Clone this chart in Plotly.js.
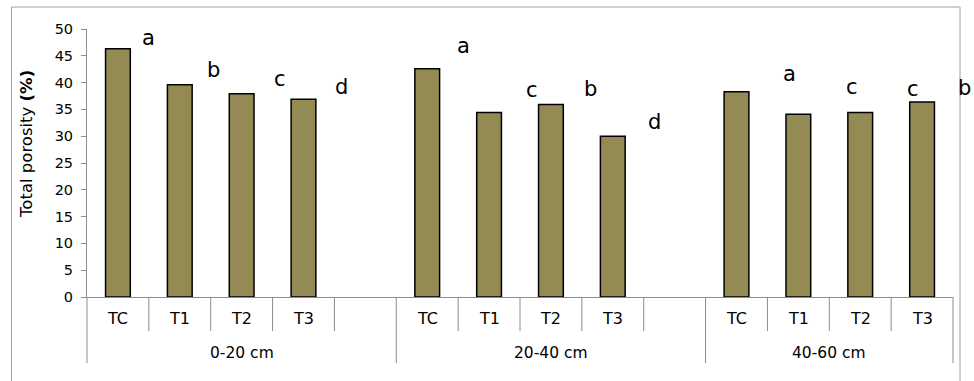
<!DOCTYPE html>
<html><head><meta charset="utf-8">
<script src="https://cdn.plot.ly/plotly-3.0.1.min.js"></script>
<style>html,body{margin:0;padding:0;background:#fff}</style>
</head><body><div id="chart" style="width:974px;height:381px"></div>
<script>
// ---- data ----
const depths = ['0-20 cm', '20-40 cm', '40-60 cm'];
const treatments = ['TC', 'T1', 'T2', 'T3'];
const porosity_0_20 = [46.3, 39.6, 37.9, 36.9];
const porosity_20_40 = [42.6, 34.4, 35.9, 30.0];
const porosity_40_60 = [38.3, 34.1, 34.4, 36.4];
const letters_0_20 = ['a', 'b', 'c', 'd'];
const letters_20_40 = ['a', 'c', 'b', 'd'];
const letters_40_60 = ['a', 'c', 'c', 'b'];
const letterY_0_20 = [48.3, 42.4, 40.7, 39.1];
const letterY_20_40 = [46.8, 38.6, 38.8, 32.7];
const letterY_40_60 = [41.6, 39.2, 38.9, 39.0];
const yTickVals = [0, 5, 10, 15, 20, 25, 30, 35, 40, 45, 50];
const yTitle = 'Total porosity <b>(%)</b>';

// ---- layout helpers (positions/styles) ----
const FONT = 'DejaVu Sans, sans-serif';
const blankSlot = [true, true, false];          // empty slot after T3 in the first two groups
const letterDx = [[0.50, 0.54, 0.62, 0.62], [0.59, 0.69, 0.64, 0.68], [0.86, 0.87, 0.85, 0.69]];
const AXIS_GRAY = '#8c8c8c';

const values = [porosity_0_20, porosity_20_40, porosity_40_60];
const letters = [letters_0_20, letters_20_40, letters_40_60];
const letterYs = [letterY_0_20, letterY_20_40, letterY_40_60];

// count slots first
let nSlots = 0;
depths.forEach((d, g) => { nSlots += treatments.length + (blankSlot[g] ? 1 : 0); });
const idxToPaper = v => (v + 0.5) / nSlots;

const xg = [], xc = [], yv = [];
const annotations = [];
const groupBounds = [];
let idx = 0;
depths.forEach((d, g) => {
  const start = idx;
  treatments.forEach((t, i) => {
    xg.push(d); xc.push(t); yv.push(values[g][i]);
    // significance letter
    annotations.push({
      x: idxToPaper(idx + letterDx[g][i]), y: letterYs[g][i], xref: 'paper', yref: 'y',
      text: letters[g][i], showarrow: false, xanchor: 'center', yanchor: 'middle',
      font: {family: FONT, size: 21, color: '#000'}
    });
    // treatment label under the axis
    annotations.push({
      x: idxToPaper(idx), y: -0.082, xref: 'paper', yref: 'paper',
      text: t, showarrow: false, xanchor: 'center', yanchor: 'middle',
      font: {family: FONT, size: 16, color: '#000'}
    });
    idx++;
  });
  if (blankSlot[g]) { xg.push(d); xc.push(' '); yv.push(null); idx++; }
  groupBounds.push([start, idx]);
  annotations.push({
    x: idxToPaper((start + idx - 1) / 2), y: -0.209, xref: 'paper', yref: 'paper',
    text: d, showarrow: false, xanchor: 'center', yanchor: 'middle',
    font: {family: FONT, size: 15.5, color: '#000'}
  });
});

// y-axis title
annotations.push({
  x: -0.0693, y: 0.571, xref: 'paper', yref: 'paper', textangle: -90,
  text: yTitle, showarrow: false, xanchor: 'center', yanchor: 'middle',
  font: {family: FONT, size: 16.5, color: '#000'}
});

// tick marks at slot boundaries (short) and group dividers (long)
const shapes = [];
const dividerIdx = new Set();
groupBounds.forEach(([s, e]) => { dividerIdx.add(s); dividerIdx.add(e); });
for (let b = 0; b <= nSlots; b++) {
  const xp = b / nSlots;
  const long = dividerIdx.has(b);
  shapes.push({
    type: 'line', xref: 'paper', yref: 'paper',
    x0: xp, x1: xp, y0: 0, y1: long ? -0.2463 : -0.1269,
    line: {color: AXIS_GRAY, width: 1}
  });
}
// outer frame
shapes.push({
  type: 'rect', xref: 'paper', yref: 'paper',
  x0: -0.0872, x1: 1.0081, y0: -0.4, y1: 1.082,
  line: {color: '#a0a0a0', width: 1}, fillcolor: 'rgba(0,0,0,0)'
});

const trace = {
  type: 'bar', x: [xg, xc], y: yv,
  marker: {color: '#948A54', line: {color: '#000', width: 1.5}},
  hoverinfo: 'skip'
};

const layout = {
  width: 974, height: 381,
  margin: {l: 87, r: 21, t: 29, b: 84},
  paper_bgcolor: '#fff', plot_bgcolor: '#fff',
  showlegend: false,
  bargap: 0.6,
  font: {family: FONT, size: 14, color: '#000'},
  xaxis: {
    type: 'multicategory',
    range: [-0.5, nSlots - 0.5],
    showline: true, linecolor: AXIS_GRAY, linewidth: 1,
    ticks: '', showticklabels: false, showdividers: false,
    showgrid: false, zeroline: false
  },
  yaxis: {
    range: [0, 50], tickvals: yTickVals, ticktext: yTickVals.map(String),
    showline: true, linecolor: AXIS_GRAY, linewidth: 1,
    ticks: 'outside', ticklen: 5, tickcolor: AXIS_GRAY,
    showgrid: false, zeroline: false,
    ticklabelstandoff: 5,
    tickfont: {family: FONT, size: 14.5, color: '#000'}
  },
  shapes: shapes,
  annotations: annotations
};

Plotly.newPlot('chart', [trace], layout, {displayModeBar: false, staticPlot: true});
</script>
</body></html>
